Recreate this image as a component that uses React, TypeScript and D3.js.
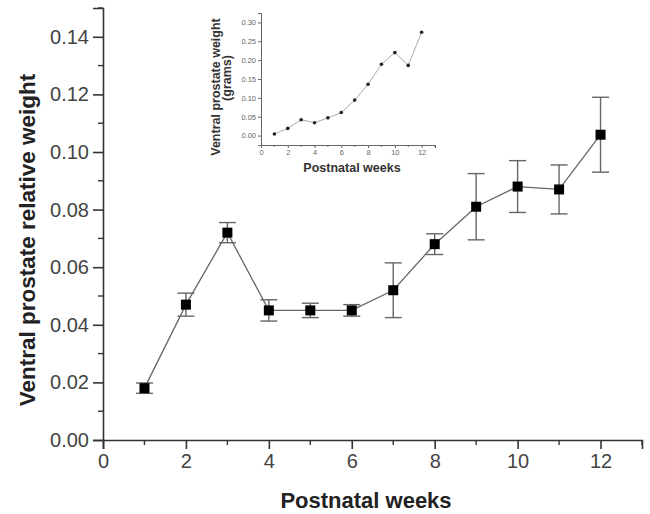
import * as d3 from "d3";
import { useEffect, useRef } from "react";

const weeks = [1, 2, 3, 4, 5, 6, 7, 8, 9, 10, 11, 12];
const relWeight = [0.018, 0.047, 0.072, 0.045, 0.045, 0.045, 0.052, 0.068, 0.081, 0.088, 0.087, 0.106];
const relError = [0.0018, 0.004, 0.0035, 0.0037, 0.0025, 0.002, 0.0095, 0.0036, 0.0115, 0.009, 0.0085, 0.013];
const gramWeight = [0.004, 0.019, 0.042, 0.034, 0.047, 0.061, 0.094, 0.136, 0.189, 0.22, 0.186, 0.274];

const mainYTicks = [0, 0.02, 0.04, 0.06, 0.08, 0.1, 0.12, 0.14];
const mainXTicks = [0, 2, 4, 6, 8, 10, 12];
const insetYTicks = [0, 0.05, 0.1, 0.15, 0.2, 0.25, 0.3];

const FONT = "'Liberation Sans', Arial, sans-serif";

const App = () => {
  const ref = useRef<SVGSVGElement>(null);

  useEffect(() => {
    const svg = d3.select(ref.current);
    svg.selectAll("*").remove();
    const width = 650;
    const height = 514;
    svg.attr("width", width).attr("height", height).style("font-family", FONT);

    const data = weeks.map((w, i) => ({ w, v: relWeight[i], e: relError[i], g: gramWeight[i] }));

    // ---- main chart ----
    const x = d3.scaleLinear().domain([0, 13]).range([103, 642]);
    const y = d3.scaleLinear().domain([0, 0.15]).range([440, 8]);
    const axisColor = "#333";

    const xAxis = svg
      .append("g")
      .attr("transform", `translate(0,${y(0)})`)
      .call(
        d3.axisBottom(x).tickValues(mainXTicks).tickSize(9).tickPadding(5).tickFormat(d3.format("d"))
      );
    xAxis.select(".domain").attr("stroke", axisColor).attr("stroke-width", 1.6);
    xAxis.selectAll(".tick line").attr("stroke", axisColor).attr("stroke-width", 1.6);
    xAxis.selectAll("text").attr("fill", "#444").style("font-size", "20px").style("font-family", FONT);
    xAxis
      .selectAll(".minor")
      .data(d3.range(1, 14, 2))
      .join("line")
      .attr("x1", (d) => x(d))
      .attr("x2", (d) => x(d))
      .attr("y1", 0)
      .attr("y2", 5)
      .attr("stroke", axisColor)
      .attr("stroke-width", 1.4);

    const yAxis = svg
      .append("g")
      .attr("transform", `translate(${x(0)},0)`)
      .call(
        d3.axisLeft(y).tickValues(mainYTicks).tickSize(10).tickPadding(4).tickFormat(d3.format(".2f"))
      );
    yAxis.select(".domain").attr("stroke", axisColor).attr("stroke-width", 1.6);
    yAxis.selectAll(".tick line").attr("stroke", axisColor).attr("stroke-width", 1.6);
    yAxis.selectAll("text").attr("fill", "#444").style("font-size", "20px").style("font-family", FONT);
    yAxis
      .selectAll(".minor")
      .data(d3.range(0.01, 0.151, 0.02))
      .join("line")
      .attr("x1", 0)
      .attr("x2", -5)
      .attr("y1", (d) => y(d))
      .attr("y2", (d) => y(d))
      .attr("stroke", axisColor)
      .attr("stroke-width", 1.4);

    // connecting line
    const line = d3
      .line<any>()
      .x((d) => x(d.w))
      .y((d) => y(d.v));
    svg
      .append("path")
      .datum(data)
      .attr("d", line)
      .attr("fill", "none")
      .attr("stroke", "#666")
      .attr("stroke-width", 1.3);

    // error bars
    const eb = svg.append("g").attr("stroke", "#666").attr("stroke-width", 1.4);
    const cap = 8.5;
    data.forEach((d) => {
      eb.append("line").attr("x1", x(d.w)).attr("x2", x(d.w)).attr("y1", y(d.v + d.e)).attr("y2", y(d.v - d.e));
      eb.append("line").attr("x1", x(d.w) - cap).attr("x2", x(d.w) + cap).attr("y1", y(d.v + d.e)).attr("y2", y(d.v + d.e));
      eb.append("line").attr("x1", x(d.w) - cap).attr("x2", x(d.w) + cap).attr("y1", y(d.v - d.e)).attr("y2", y(d.v - d.e));
    });

    // markers
    const sq = 10;
    svg
      .append("g")
      .selectAll("rect")
      .data(data)
      .join("rect")
      .attr("x", (d) => x(d.w) - sq / 2)
      .attr("y", (d) => y(d.v) - sq / 2)
      .attr("width", sq)
      .attr("height", sq)
      .attr("fill", "#000");

    // axis titles
    svg
      .append("text")
      .attr("x", 366)
      .attr("y", 508)
      .attr("text-anchor", "middle")
      .style("font-size", "22px")
      .style("font-weight", "bold")
      .attr("fill", "#222")
      .text("Postnatal weeks");
    svg
      .append("text")
      .attr("transform", `translate(35,240) rotate(-90)`)
      .attr("text-anchor", "middle")
      .style("font-size", "22.5px")
      .style("font-weight", "bold")
      .attr("fill", "#222")
      .text("Ventral prostate relative weight");

    // ---- inset ----
    const ix = d3.scaleLinear().domain([0, 13]).range([261, 435]);
    const iy = d3.scaleLinear().domain([-0.025, 0.325]).range([145, 13]);
    const inset = svg.append("g");
    const insetColor = "#666";

    const ixAxis = inset
      .append("g")
      .attr("transform", `translate(0,${iy(-0.025)})`)
      .call(d3.axisBottom(ix).tickValues(mainXTicks).tickSize(3).tickPadding(2).tickFormat(d3.format("d")));
    ixAxis.select(".domain").attr("stroke", insetColor);
    ixAxis.selectAll(".tick line").attr("stroke", insetColor);
    ixAxis.selectAll("text").attr("fill", "#666").style("font-size", "7.5px").style("font-family", FONT);
    ixAxis
      .selectAll(".minor")
      .data(d3.range(1, 14, 2))
      .join("line")
      .attr("x1", (d) => ix(d))
      .attr("x2", (d) => ix(d))
      .attr("y1", 0)
      .attr("y2", 2)
      .attr("stroke", insetColor);

    const iyAxis = inset
      .append("g")
      .attr("transform", `translate(${ix(0)},0)`)
      .call(d3.axisLeft(iy).tickValues(insetYTicks).tickSize(3).tickPadding(2).tickFormat(d3.format(".2f")));
    iyAxis.select(".domain").attr("stroke", insetColor);
    iyAxis.selectAll(".tick line").attr("stroke", insetColor);
    iyAxis.selectAll("text").attr("fill", "#666").style("font-size", "7.5px").style("font-family", FONT);

    const iline = d3
      .line<any>()
      .x((d) => ix(d.w))
      .y((d) => iy(d.g));
    inset
      .append("path")
      .datum(data)
      .attr("d", iline)
      .attr("fill", "none")
      .attr("stroke", "#aaa")
      .attr("stroke-width", 1);
    inset
      .append("g")
      .selectAll("circle")
      .data(data)
      .join("circle")
      .attr("cx", (d) => ix(d.w))
      .attr("cy", (d) => iy(d.g))
      .attr("r", 1.8)
      .attr("fill", "#222");

    inset
      .append("text")
      .attr("x", 352)
      .attr("y", 172)
      .attr("text-anchor", "middle")
      .style("font-size", "12.5px")
      .style("font-weight", "bold")
      .attr("fill", "#333")
      .text("Postnatal weeks");
    inset
      .append("text")
      .attr("transform", `translate(220,87) rotate(-90)`)
      .attr("text-anchor", "middle")
      .style("font-size", "12.5px")
      .style("font-weight", "bold")
      .attr("fill", "#333")
      .text("Ventral prostate weight");
    inset
      .append("text")
      .attr("transform", `translate(231,78) rotate(-90)`)
      .attr("text-anchor", "middle")
      .style("font-size", "12.5px")
      .style("font-weight", "bold")
      .attr("fill", "#333")
      .text("(grams)");
  }, []);

  return <svg ref={ref} style={{ position: "absolute", left: 0, top: 0, background: "#fff" }} />;
};

export default App;
